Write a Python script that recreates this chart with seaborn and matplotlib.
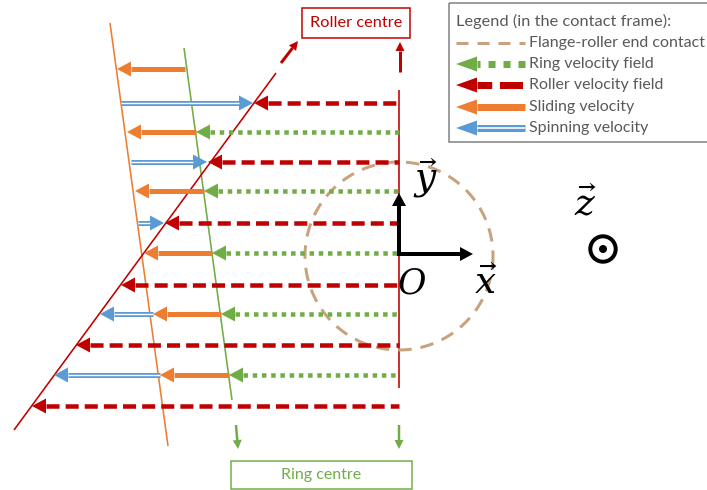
import matplotlib
matplotlib.use("Agg")
import matplotlib.pyplot as plt
from matplotlib.patches import Rectangle, Circle
import numpy as np
import pandas as pd
import seaborn as sns

sns.set_theme(style="white")
plt.rcParams['font.family'] = ['Lato', 'DejaVu Sans']
plt.rcParams['mathtext.fontset'] = 'dejavuserif'

RED = "#C00000"
GREEN = "#70AD47"
ORANGE = "#ED7D31"
BLUE = "#5B9BD5"
TAN = "#C8A27C"
GREY = "#595959"

# velocity field rows in image pixels
red_y = [103, 162, 223, 285, 345, 406]
red_tip = [254, 208, 165, 121, 76, 32]
green_y = [132, 191, 253, 314, 375]
green_tip = [196, 204, 212, 221, 229]
sliding_y = [69, 132, 191, 253, 314, 375]
sliding_from = [185, 196, 204, 212, 221, 229]
sliding_tip = [117, 127, 135, 144, 153, 160]
spin_y = [103, 162, 223, 314, 375]
spin_from = [121, 131, 138, 153, 160]
spin_tip = [253, 207, 164, 100, 54]

# contact frame lines
roller_edge_x = [14, 276]
roller_edge_y = [430, 73]
ring_edge_x = [184, 232]
ring_edge_y = [48, 400]
slide_edge_x = [110, 168]
slide_edge_y = [23, 446]
centre_line_x = [399, 399]
centre_line_y = [388, 90]

legend_names = ["Flange-roller end contact", "Ring velocity field",
                "Roller velocity field", "Sliding velocity", "Spinning velocity"]
legend_rows = [43, 64, 85, 107, 128]

circle_angle = np.linspace(0, 2 * np.pi, 181)

fig = plt.figure(figsize=(7.07, 4.90), dpi=100)
ax = fig.add_axes([0, 0, 1, 1])
ax.set_xlim(0, 707)
ax.set_ylim(490, 0)
ax.axis("off")

PX = 0.72  # one image pixel in points


def draw_line(xs, ys, color, width, dashes=None, z=2):
    df = pd.DataFrame({"x": xs, "y": ys})
    sns.lineplot(data=df, x="x", y="y", color=color, linewidth=width * PX, sort=False,
                 estimator=None, ax=ax, zorder=z)
    line = ax.lines[-1]
    line.set_solid_capstyle("butt")
    if dashes is not None:
        line.set_linestyle((0, dashes))
        line.set_dash_capstyle("butt")
    return line


def draw_head(x0, y0, x1, y1, color, length=14, half=7.5, z=3):
    # triangle tip at (x1, y1), pointing away from (x0, y0)
    d = np.hypot(x1 - x0, y1 - y0)
    bx = x1 - (x1 - x0) / d * length
    by = y1 - (y1 - y0) / d * length
    ax.annotate("", xy=(x1, y1), xytext=(bx, by), zorder=z,
                arrowprops=dict(arrowstyle=f"-|>,head_length={length * PX / 10},head_width={half * PX / 10}",
                                mutation_scale=10, color=color, lw=0, shrinkA=0, shrinkB=0))
    return bx, by


def dashed_arrow(x0, y0, x1, y1, color, dash, width=4.5, z=3, length=14, half=7.5, from_head=True):
    bx, by = draw_head(x0, y0, x1, y1, color, length, half, z=z)
    if from_head:
        # the dash pattern starts at the arrow head, as in the drawing
        draw_line([bx, x0], [by, y0], color, width, dashes=dash, z=z)
    else:
        draw_line([x0, bx], [y0, by], color, width, dashes=dash, z=z)


def solid_arrow(x0, y0, x1, y1, color, width=5, z=3, length=14, half=7.5):
    bx, by = draw_head(x0, y0, x1, y1, color, length, half, z=z)
    draw_line([x0, bx], [y0, by], color, width, z=z)


def double_arrow(x0, y0, x1, y1, color, z=3, width=5, gap=1.4, length=14, half=7.5):
    bx, by = draw_head(x0, y0, x1, y1, color, length, half, z=z)
    draw_line([x0, bx], [y0, by], color, width, z=z)
    draw_line([x0, bx], [y0, by], "white", gap, z=z)


RED_DASH = (2.9, 1.35)
GREEN_DOT = (1.0, 1.05)

# frame lines
draw_line(slide_edge_x, slide_edge_y, ORANGE, 1.6)
draw_line(ring_edge_x, ring_edge_y, GREEN, 1.6)
draw_line(roller_edge_x, roller_edge_y, RED, 1.6)
draw_line(centre_line_x, centre_line_y, RED, 1.6)

# flange contact circle
draw_line(399 + 94 * np.cos(circle_angle), 256 + 94 * np.sin(circle_angle), TAN, 3,
          dashes=(4.5, 3), z=2)

for y, a, b in zip(spin_y, spin_from, spin_tip):
    double_arrow(a, y, b, y, BLUE)
for y, a, b in zip(sliding_y, sliding_from, sliding_tip):
    solid_arrow(a, y, b, y, ORANGE, z=4)
for y, tip in zip(green_y, green_tip):
    dashed_arrow(399, y, tip, y, GREEN, GREEN_DOT, z=4)
for y, tip in zip(red_y, red_tip):
    dashed_arrow(399, y, tip, y, RED, RED_DASH, z=4)

# arrows toward the two centres
solid_arrow(281, 63, 298, 41, RED, width=3, length=9, half=4.5)
solid_arrow(400, 72, 400, 42, RED, width=3, length=9, half=4.5)
solid_arrow(236, 425, 238, 449, GREEN, width=2.5, length=9, half=4.5)
solid_arrow(399, 425, 399, 449, GREEN, width=2.5, length=9, half=4.5)

# axes of the contact frame
solid_arrow(399, 254, 473, 254, "black", width=4, z=5, length=13, half=7)
solid_arrow(399, 256, 399, 193, "black", width=4, z=5, length=13, half=7)
ax.add_patch(Circle((603, 249), 12.7, fill=False, ec="black", lw=4 * PX, zorder=5))
ax.add_patch(Circle((603, 249), 4, fc="black", ec="none", zorder=5))

math_kw = dict(color="black", fontsize=27, ha="center", va="center", zorder=6)
ax.text(426, 178, r"$\vec{y}$", **math_kw)
ax.text(412, 283, r"$O$", color="black", fontsize=25, ha="center", va="center", zorder=6)
ax.text(486, 283, r"$\vec{x}$", **math_kw)
ax.text(585, 204, r"$\vec{z}$", **math_kw)

# centre labels
ax.add_patch(Rectangle((302, 8), 108, 30, fill=False, ec=RED, lw=1.5 * PX))
ax.text(356, 23, "Roller centre", color=RED, fontsize=11.8, ha="center", va="center")
ax.add_patch(Rectangle((231, 461), 181, 28, fill=False, ec=GREEN, lw=1.5 * PX))
ax.text(321, 475, "Ring centre", color=GREEN, fontsize=11.5, ha="center", va="center")

# hand drawn legend
ax.add_patch(Rectangle((449, 3), 270, 139, fill=False, ec="#7F7F7F", lw=1.5 * PX))
ax.text(456, 21, "Legend (in the contact frame):", color=GREY, fontsize=11.8, va="center")
draw_line([456, 525], [legend_rows[0]] * 2, TAN, 3, dashes=(4, 3))
dashed_arrow(525, legend_rows[1], 456, legend_rows[1], GREEN, (1, 1.14), width=7, length=21, from_head=False)
dashed_arrow(525, legend_rows[2], 456, legend_rows[2], RED, (2.1, 1.1, 3.3, 1), width=7, length=21)
solid_arrow(525, legend_rows[3], 456, legend_rows[3], ORANGE, width=7, length=21)
double_arrow(525, legend_rows[4], 456, legend_rows[4], BLUE, width=7, gap=1.6, length=21)
for name, row in zip(legend_names, legend_rows):
    ax.text(529, row, name, color=GREY, fontsize=11.5, va="center")

fig.savefig("out.png", dpi=100)
